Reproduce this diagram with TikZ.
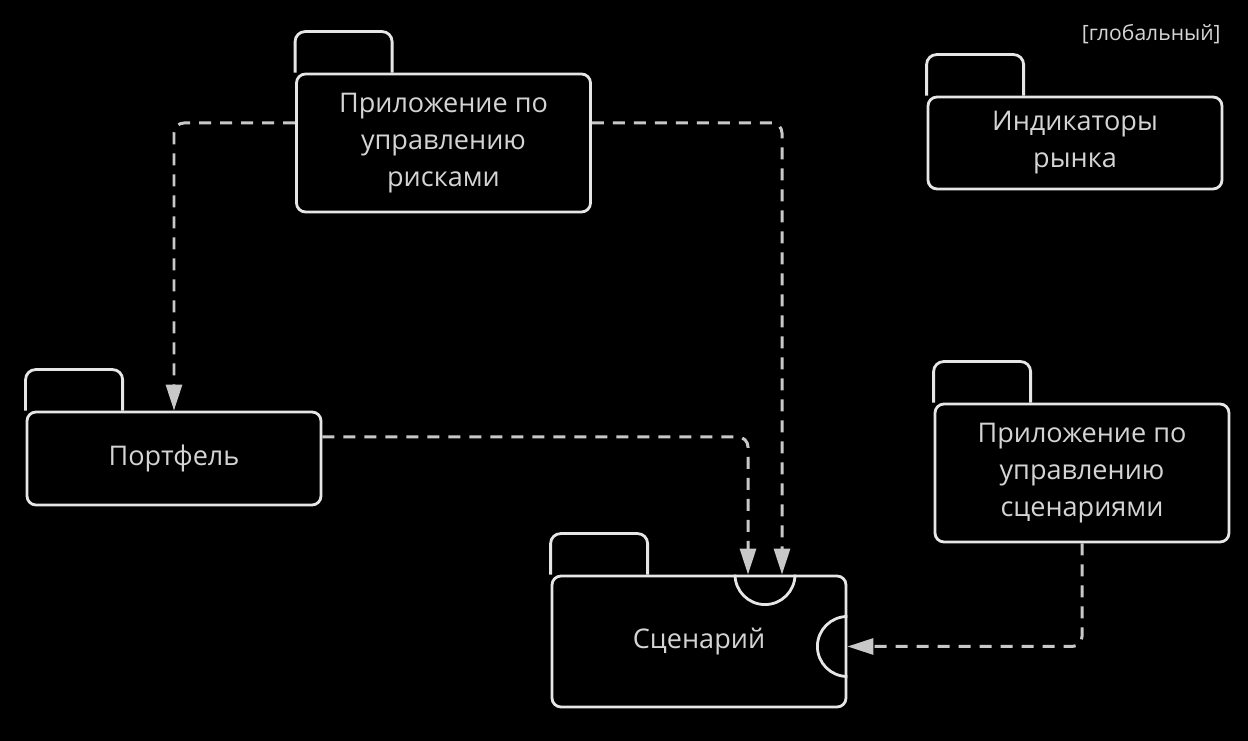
\documentclass[tikz,border=0pt]{standalone}
\usepackage{fontspec}
\setmainfont{Open Sans}
\usepackage{tikz}
\usetikzlibrary{positioning, arrows.meta}
\definecolor{pkgline}{HTML}{E6E6E6}
\definecolor{pkgtext}{HTML}{D4D4D4}
\definecolor{depline}{HTML}{C8C8C8}

\begin{document}
\begin{tikzpicture}[
		pkg/.style={draw=pkgline, line width=1.6pt, rounded corners=0.18cm, text=pkgtext, align=center,
			minimum width=5.88cm, font=\fontsize{15.4}{21}\selectfont},
		pkgtab/.style={draw=pkgline, line width=1.6pt, rounded corners=0.2cm},
		dep/.style={draw=depline, line width=1.7pt, dash pattern=on 0.24cm off 0.18cm, rounded corners=0.2cm,
			-{Triangle[length=0.52cm, width=0.32cm, fill=depline]}}]
			\fill[black] (0,0) rectangle (24.96,14.82);
			\useasboundingbox (0,0) rectangle (24.96,14.82);
			\node[text=pkgtext, font=\fontsize{12}{14}\selectfont, anchor=east, inner sep=0pt] (global) at (24.42,14.14) {[глобальный]};
			\draw
			node[pkg, minimum height=2.76cm] (risk)  at (8.87, 11.96) {Приложение по\\управлению\\рисками}
			node[pkg, minimum height=1.84cm] (ind)   at (21.5, 11.96) {Индикаторы\\рынка}
			node[pkg, minimum height=1.86cm] (port)  at (3.48, 5.65)  {Портфель}
			node[pkg, minimum height=2.76cm] (scapp) at (21.64, 5.36) {Приложение по\\управлению\\сценариями}
			node[pkg, minimum height=2.62cm] (scen)  at (13.98, 1.99) {Сценарий};
			\foreach \p in {risk, ind, port, scapp, scen}
				\draw[pkgtab] (\p.north west) -- ++(0,0.82) -- ++(1.94,0) -- ++(0,-0.82);
			\coordinate (sport) at ([xshift=13.2mm]scen.north);
			\coordinate (eport) at ([yshift=-1mm]scen.east);
			\draw[pkgline, line width=1.6pt] ([xshift=-6mm]sport) arc[start angle=180, end angle=360, radius=0.6cm];
			\draw[pkgline, line width=1.6pt] ([yshift=6mm]eport) arc[start angle=90, end angle=270, radius=0.6cm];
			\draw[dep] ([yshift=4mm]risk.west) -| (port.north);
			\draw[dep] ([yshift=4mm]risk.east) -| ([xshift=3.4mm]sport);
			\draw[dep] ([yshift=4.3mm]port.east) -| ([xshift=-3.4mm]sport);
			\draw[dep] (scapp.south) |- (eport);
		\end{tikzpicture}
\end{document}
